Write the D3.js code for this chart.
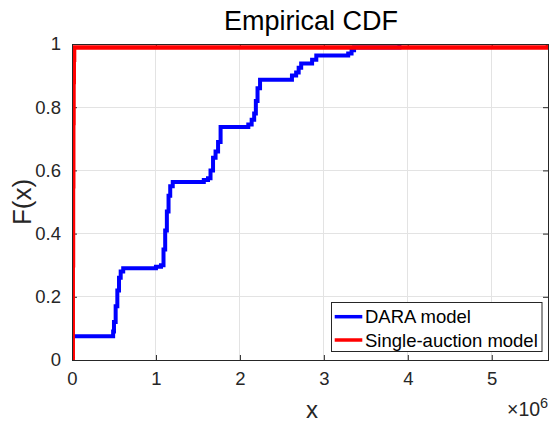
<!DOCTYPE html>
<html>
<head>
<meta charset="utf-8">
<script src="https://cdn.jsdelivr.net/npm/d3@7"></script>
<style>
  html, body { margin: 0; padding: 0; background: #fff; }
  svg { display: block; font-family: "Liberation Sans", Arial, Helvetica, sans-serif; }
</style>
</head>
<body>
<svg id="chart" width="553" height="424"></svg>
<script>
// ---- data (x in units of 1e6) ----
const daraX = [0, 0.49, 0.50, 0.52, 0.54, 0.56, 0.58, 0.61,
               1.00, 1.06, 1.09, 1.11, 1.13, 1.15, 1.17, 1.20,
               1.57, 1.62, 1.65, 1.68, 1.71, 1.74, 1.77,
               2.10, 2.14, 2.17, 2.19, 2.21, 2.24,
               2.62, 2.67, 2.70, 2.73,
               2.86, 2.91,
               3.29, 3.33, 3.36, 3.90];
const daraF = [0.075, 0.09, 0.12, 0.17, 0.22, 0.26, 0.28, 0.29,
               0.295, 0.30, 0.35, 0.41, 0.47, 0.52, 0.55, 0.563,
               0.57, 0.575, 0.60, 0.64, 0.66, 0.69, 0.737,
               0.745, 0.76, 0.78, 0.82, 0.86, 0.887,
               0.90, 0.91, 0.925, 0.938,
               0.95, 0.964,
               0.97, 0.98, 0.989, 1.0];
const singleX = [0, 0.008, 0.011, 0.014, 0.017, 0.020, 0.024, 5.67];
const singleF = [0, 0.30, 0.55, 0.75, 0.88, 0.95, 0.989, 1.0];

const xTicks = [0, 1, 2, 3, 4, 5];
const yTicks = [0, 0.2, 0.4, 0.6, 0.8, 1];
const yTickLabels = ["0", "0.2", "0.4", "0.6", "0.8", "1"];
const seriesNames = ["DARA model", "Single-auction model"];
const seriesColors = ["#0000ff", "#ff0000"];

// ---- layout ----
const L = 72, R = 548, T = 44, B = 360;
const axisColor = "#262626";
const svg = d3.select("#chart");

const x = d3.scaleLinear().domain([0, 5.67]).range([L, R]);
const y = d3.scaleLinear().domain([0, 1]).range([B, T]);

// grid
svg.append("g").selectAll("line.gx").data(xTicks).join("line")
  .attr("x1", d => x(d)).attr("x2", d => x(d)).attr("y1", T).attr("y2", B)
  .attr("stroke", "#e3e3e3").attr("stroke-width", 1).attr("shape-rendering", "crispEdges");
svg.append("g").selectAll("line.gy").data(yTicks).join("line")
  .attr("x1", L).attr("x2", R).attr("y1", d => y(d)).attr("y2", d => y(d))
  .attr("stroke", "#e3e3e3").attr("stroke-width", 1).attr("shape-rendering", "crispEdges");

// axes via d3 (ticks inward)
const tickFont = "18.5px";
const xAxis = svg.append("g").attr("transform", `translate(0,${B})`)
  .call(d3.axisBottom(x).tickValues(xTicks).tickSizeInner(-5).tickSizeOuter(0).tickPadding(12).tickFormat(d3.format("d")));
const xAxisTop = svg.append("g").attr("transform", `translate(0,${T})`)
  .call(d3.axisTop(x).tickValues(xTicks).tickSizeInner(-5).tickSizeOuter(0).tickFormat(""));
const yAxis = svg.append("g").attr("transform", `translate(${L},0)`)
  .call(d3.axisLeft(y).tickValues(yTicks).tickSizeInner(-5).tickSizeOuter(0).tickPadding(11)
    .tickFormat((d, i) => yTickLabels[i]));
const yAxisRight = svg.append("g").attr("transform", `translate(${R},0)`)
  .call(d3.axisRight(y).tickValues(yTicks).tickSizeInner(-5).tickSizeOuter(0).tickFormat(""));

[xAxis, xAxisTop, yAxis, yAxisRight].forEach(g => {
  g.select(".domain").attr("stroke", axisColor);
  g.selectAll(".tick line").attr("stroke", axisColor);
  g.selectAll(".tick text").attr("fill", axisColor).style("font-size", tickFont)
    .style("font-family", '"Liberation Sans", Arial, sans-serif');
});

// clip
svg.append("clipPath").attr("id", "clip").append("rect")
  .attr("x", L).attr("y", T - 3).attr("width", R - L).attr("height", B - T + 3);

const line = d3.line().curve(d3.curveStepAfter).x(d => x(d[0])).y(d => y(d[1]));
const daraPts = daraX.map((v, i) => [v, daraF[i]]);
const singlePts = singleX.map((v, i) => [v, singleF[i]]);

const plot = svg.append("g").attr("clip-path", "url(#clip)");
plot.append("path").datum(daraPts).attr("d", line)
  .attr("fill", "none").attr("stroke", seriesColors[0]).attr("stroke-width", 4).attr("stroke-linejoin", "miter");
plot.append("path").datum(singlePts).attr("d", line)
  .attr("fill", "none").attr("stroke", seriesColors[1]).attr("stroke-width", 4.6).attr("stroke-linejoin", "miter");

// box redraw on top
svg.append("rect").attr("x", L).attr("y", T).attr("width", R - L).attr("height", B - T)
  .attr("fill", "none").attr("stroke", axisColor).attr("stroke-width", 1).attr("shape-rendering", "crispEdges");

// title & labels
svg.append("text").attr("x", 311).attr("y", 30).attr("text-anchor", "middle")
  .style("font-size", "27px").attr("fill", "#000").text("Empirical CDF");
svg.append("text").attr("transform", "translate(31,202) rotate(-90)").attr("text-anchor", "middle")
  .style("font-size", "26px").attr("fill", axisColor).text("F(x)");
svg.append("text").attr("x", 312).attr("y", 418).attr("text-anchor", "middle")
  .style("font-size", "24px").attr("fill", axisColor).text("x");
const ex = svg.append("text").attr("x", 507).attr("y", 416).attr("fill", axisColor).style("font-size", "19.5px");
ex.append("tspan").text("\u00d710");
ex.append("tspan").attr("dy", -8).style("font-size", "14.5px").text("6");

// legend
const lg = svg.append("g");
lg.append("rect").attr("x", 331.5).attr("y", 302.5).attr("width", 210.5).attr("height", 49)
  .attr("fill", "#fff").attr("stroke", axisColor).attr("stroke-width", 1);
const rowsY = [316.7, 340];
seriesNames.forEach((name, i) => {
  lg.append("line").attr("x1", 334.7).attr("x2", 362.3).attr("y1", rowsY[i]).attr("y2", rowsY[i])
    .attr("stroke", seriesColors[i]).attr("stroke-width", 3.5);
  lg.append("text").attr("x", 365).attr("y", rowsY[i] + 6.5).style("font-size", "18.5px")
    .attr("fill", "#000").text(name);
});
</script>
</body>
</html>
